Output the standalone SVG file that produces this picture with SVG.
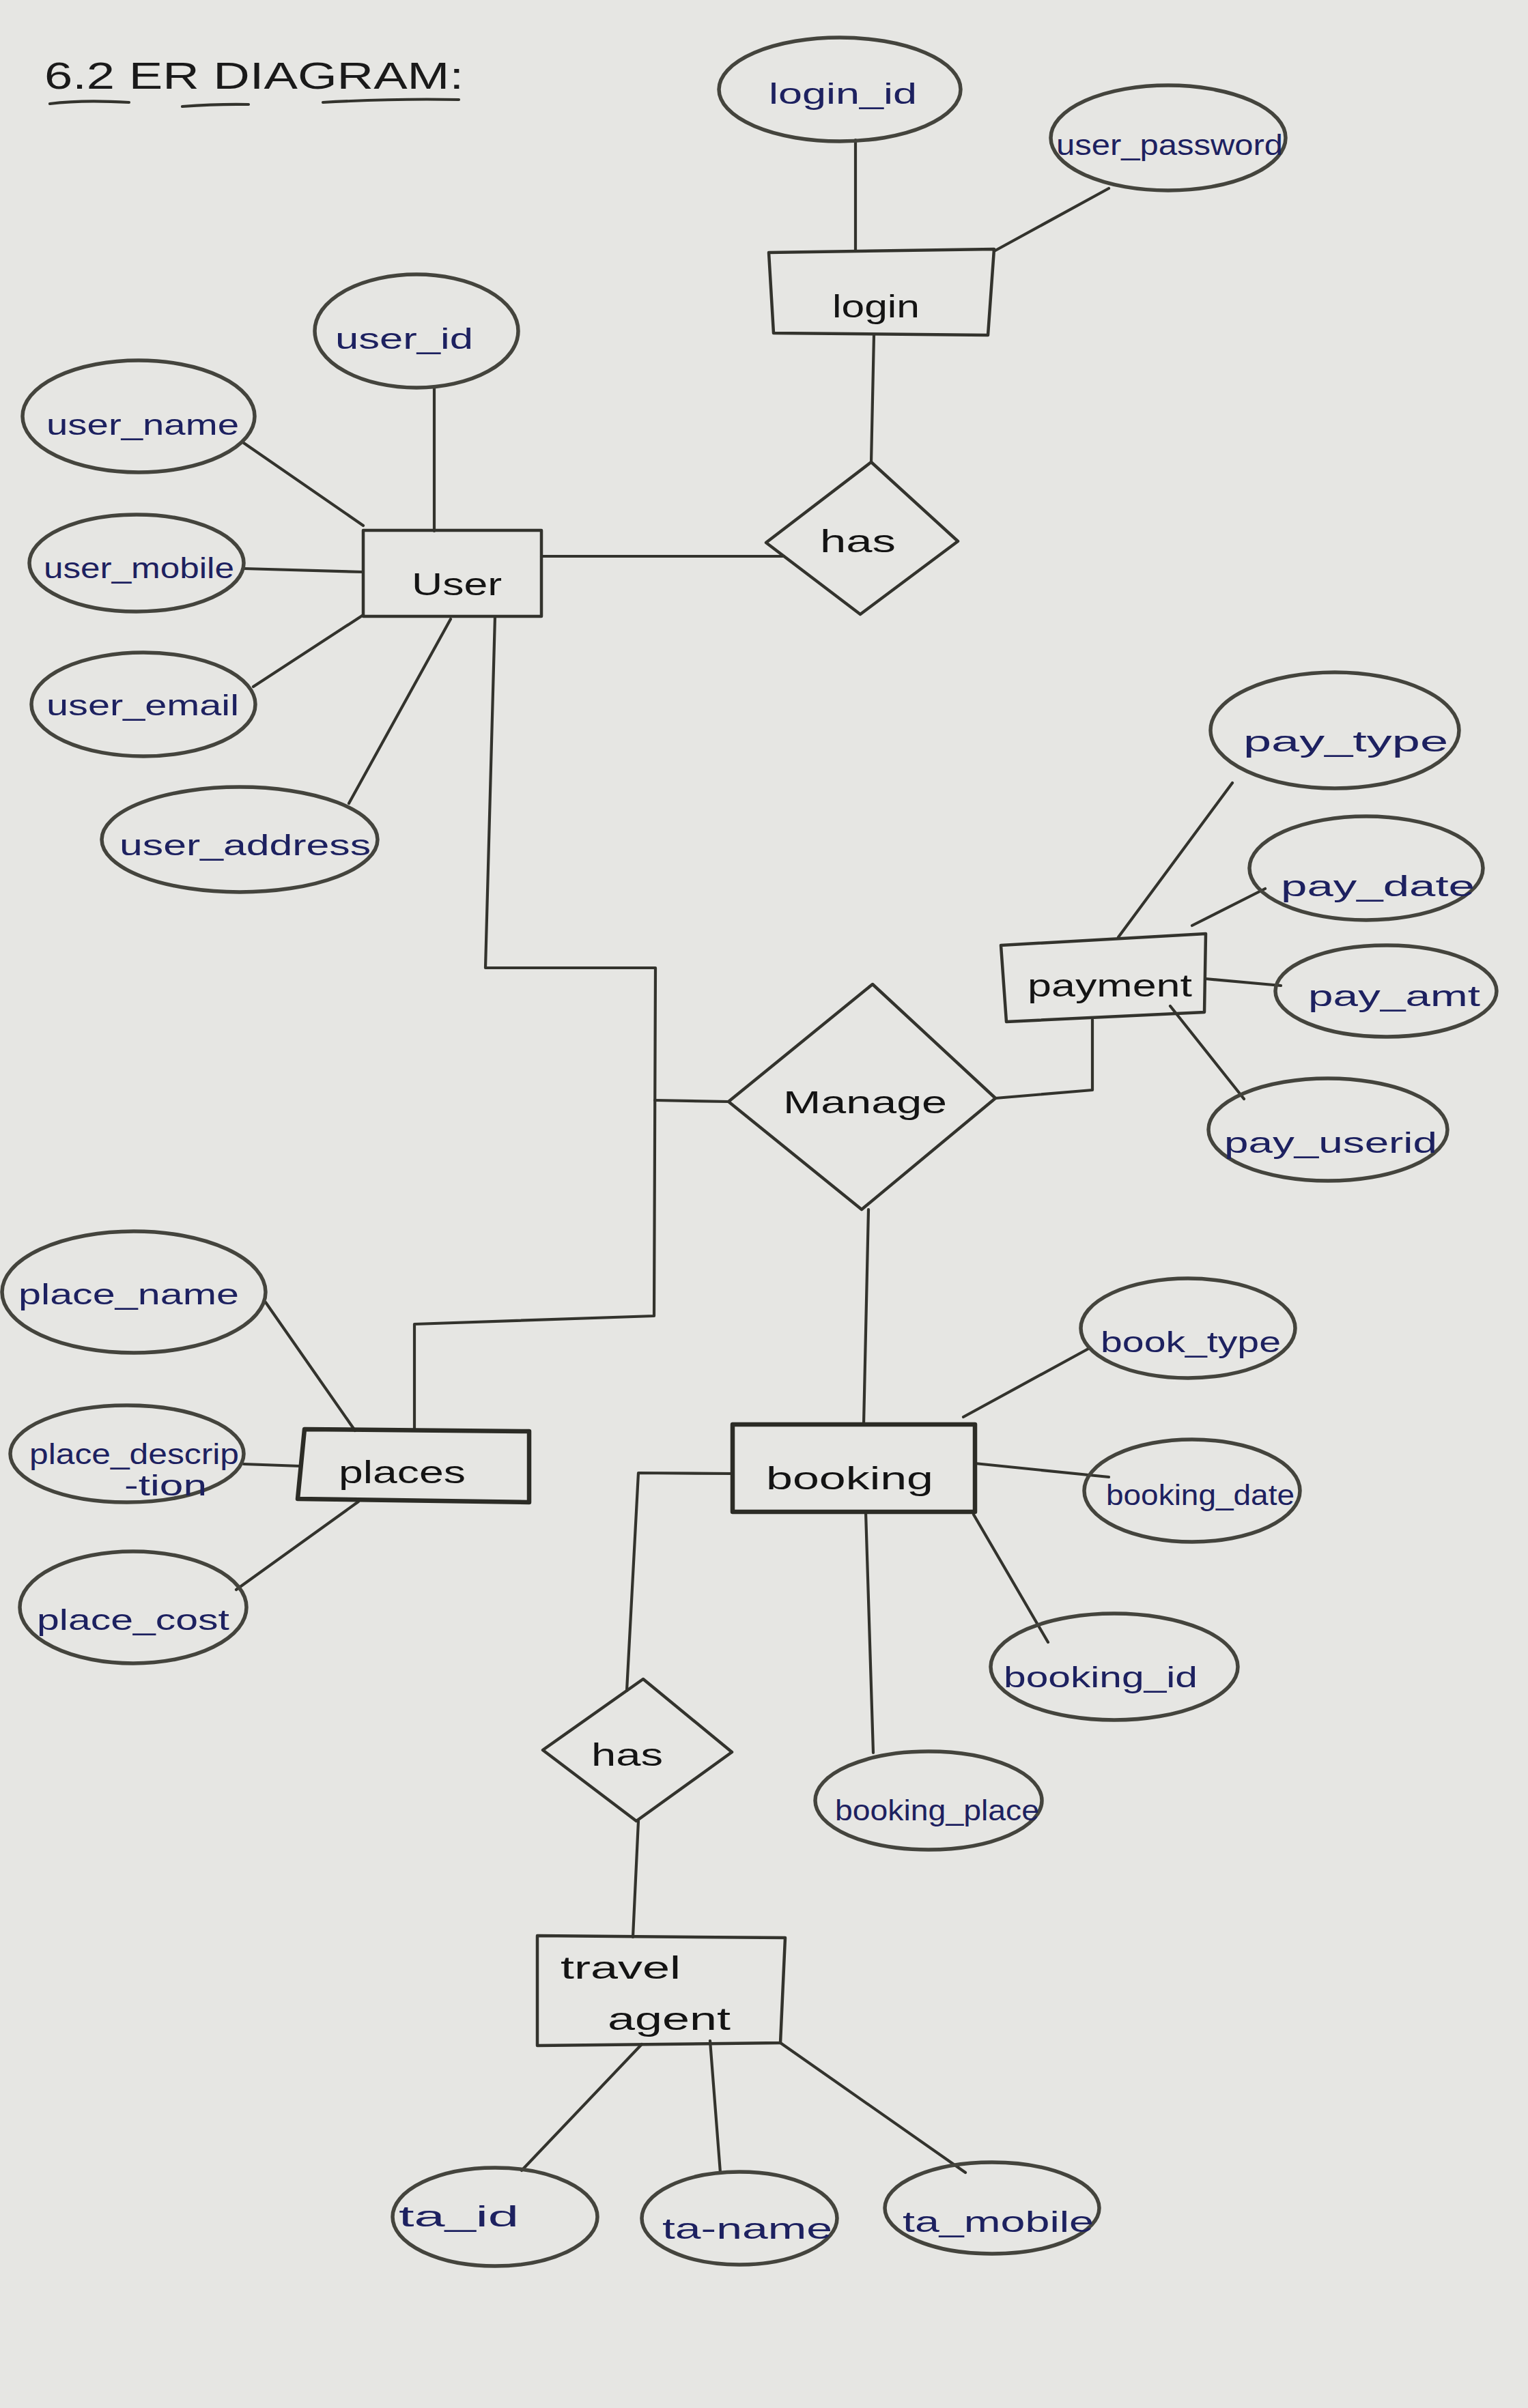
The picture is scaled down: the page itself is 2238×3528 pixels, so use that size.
<svg xmlns="http://www.w3.org/2000/svg" width="2238" height="3528" viewBox="0 0 2238 3528">
<style>
.bg{fill:#e6e6e3}
.ln{fill:none;stroke:#33332d;stroke-width:4.2;stroke-linecap:round;stroke-linejoin:round}
.ent{fill:none;stroke:#33332d;stroke-width:4.5;stroke-linejoin:round}
.entb{fill:none;stroke:#2c2c26;stroke-width:6.5;stroke-linejoin:round}
.rel{fill:none;stroke:#33332d;stroke-width:4.5;stroke-linejoin:round}
.att{fill:none;stroke:#44443d;stroke-width:5.5}
.at{font-family:"Liberation Sans","DejaVu Sans",sans-serif;font-size:42px;fill:#1d2160}
.et{font-family:"Liberation Sans","DejaVu Sans",sans-serif;font-size:46px;fill:#141414}
.tt{font-family:"Liberation Sans","DejaVu Sans",sans-serif;font-size:56px;fill:#1a1a1a}
</style>
<rect class="bg" x="0" y="0" width="2238" height="3528"/>

<g id="title">
<text class="tt" x="65" y="130" textLength="614" lengthAdjust="spacingAndGlyphs">6.2 ER DIAGRAM:</text>
<path class="ln" d="M73 152 Q120 146 189 150 M267 156 Q320 152 364 153 M473 150 Q580 144 672 146"/>
</g>

<g id="connectors">
<path class="ln" d="M1253 205 L1253 368"/>
<path class="ln" d="M1624 276 L1456 368"/>
<path class="ln" d="M1280 491 L1276 678"/>
<path class="ln" d="M793 815 L1148 815"/>
<path class="ln" d="M636 568 L636 778"/>
<path class="ln" d="M357 649 L532 770"/>
<path class="ln" d="M357 833 L532 838"/>
<path class="ln" d="M371 1006 L532 901"/>
<path class="ln" d="M511 1177 L660 907"/>
<path class="ln" d="M725 903 L711 1418 L960 1418 L958 1928 L607 1940 L607 2095"/>
<path class="ln" d="M959 1612 L1067 1614"/>
<path class="ln" d="M1458 1609 L1600 1597 L1600 1494"/>
<path class="ln" d="M1272 1772 L1265 2087"/>
<path class="ln" d="M1805 1147 L1638 1373"/>
<path class="ln" d="M1853 1302 L1746 1356"/>
<path class="ln" d="M1766 1434 L1876 1444"/>
<path class="ln" d="M1714 1474 L1822 1610"/>
<path class="ln" d="M1596 1975 L1411 2076"/>
<path class="ln" d="M1428 2144 L1624 2164"/>
<path class="ln" d="M1426 2219 L1535 2406"/>
<path class="ln" d="M1268 2215 L1279 2568"/>
<path class="ln" d="M1073 2159 L935 2158 L918 2477"/>
<path class="ln" d="M935 2668 L927 2838"/>
<path class="ln" d="M389 1908 L520 2096"/>
<path class="ln" d="M357 2145 L440 2148"/>
<path class="ln" d="M346 2329 L525 2200"/>
<path class="ln" d="M940 2995 L764 3180"/>
<path class="ln" d="M1040 2990 L1055 3183"/>
<path class="ln" d="M1143 2993 L1414 3183"/>
</g>

<g id="login">
<path class="ent" d="M1126 370 L1456 365 L1447 491 L1133 488 Z"/>
<text class="et" x="1219" y="465" textLength="128" lengthAdjust="spacingAndGlyphs">login</text>
</g>
<g id="login_id">
<ellipse class="att" cx="1230" cy="131" rx="177" ry="76"/>
<text class="at" x="1126" y="152" textLength="217" lengthAdjust="spacingAndGlyphs">login_id</text>
</g>
<g id="user_password">
<ellipse class="att" cx="1711" cy="202" rx="172" ry="77"/>
<text class="at" x="1547" y="227" font-size="38" textLength="332" lengthAdjust="spacingAndGlyphs">user_password</text>
</g>
<g id="has_login">
<path class="rel" d="M1276 677 L1403 793 L1260 900 L1122 795 Z"/>
<text class="et" x="1201" y="809" textLength="111" lengthAdjust="spacingAndGlyphs">has</text>
</g>

<g id="user">
<rect class="ent" x="532" y="777" width="261" height="126"/>
<text class="et" x="603" y="872" textLength="132" lengthAdjust="spacingAndGlyphs">User</text>
</g>
<g id="user_id">
<ellipse class="att" cx="610" cy="485" rx="149" ry="83"/>
<text class="at" x="491" y="511" textLength="202" lengthAdjust="spacingAndGlyphs">user_id</text>
</g>
<g id="user_name">
<ellipse class="att" cx="203" cy="610" rx="170" ry="82"/>
<text class="at" x="68" y="637" textLength="282" lengthAdjust="spacingAndGlyphs">user_name</text>
</g>
<g id="user_mobile">
<ellipse class="att" cx="200" cy="825" rx="157" ry="71"/>
<text class="at" x="64" y="847" textLength="279" lengthAdjust="spacingAndGlyphs">user_mobile</text>
</g>
<g id="user_email">
<ellipse class="att" cx="210" cy="1032" rx="164" ry="76"/>
<text class="at" x="68" y="1048" textLength="282" lengthAdjust="spacingAndGlyphs">user_email</text>
</g>
<g id="user_address">
<ellipse class="att" cx="351" cy="1230" rx="202" ry="77"/>
<text class="at" x="175" y="1253" textLength="368" lengthAdjust="spacingAndGlyphs">user_address</text>
</g>

<g id="payment">
<path class="ent" d="M1466 1385 L1766 1368 L1764 1483 L1474 1497 Z"/>
<text class="et" x="1505" y="1460" textLength="241" lengthAdjust="spacingAndGlyphs">payment</text>
</g>
<g id="pay_type">
<ellipse class="att" cx="1955" cy="1070" rx="182" ry="85"/>
<text class="at" x="1821" y="1101" textLength="300" lengthAdjust="spacingAndGlyphs">pay_type</text>
</g>
<g id="pay_date">
<ellipse class="att" cx="2001" cy="1272" rx="171" ry="76"/>
<text class="at" x="1876" y="1313" textLength="284" lengthAdjust="spacingAndGlyphs">pay_date</text>
</g>
<g id="pay_amt">
<ellipse class="att" cx="2030" cy="1452" rx="162" ry="67"/>
<text class="at" x="1916" y="1474" textLength="252" lengthAdjust="spacingAndGlyphs">pay_amt</text>
</g>
<g id="pay_userid">
<ellipse class="att" cx="1945" cy="1655" rx="175" ry="75"/>
<text class="at" x="1793" y="1689" textLength="312" lengthAdjust="spacingAndGlyphs">pay_userid</text>
</g>

<g id="manage">
<path class="rel" d="M1278 1442 L1458 1609 L1262 1772 L1067 1614 Z"/>
<text class="et" x="1147" y="1631" textLength="240" lengthAdjust="spacingAndGlyphs">Manage</text>
</g>

<g id="places">
<path class="entb" d="M446 2094 L775 2097 L775 2201 L436 2196 Z"/>
<text class="et" x="496" y="2173" font-size="42" textLength="186" lengthAdjust="spacingAndGlyphs">places</text>
</g>
<g id="place_name">
<ellipse class="att" cx="196" cy="1893" rx="193" ry="89"/>
<text class="at" x="27" y="1911" textLength="323" lengthAdjust="spacingAndGlyphs">place_name</text>
</g>
<g id="place_description">
<ellipse class="att" cx="186" cy="2130" rx="171" ry="71"/>
<text class="at" x="43" y="2145" font-size="40" textLength="307" lengthAdjust="spacingAndGlyphs">place_descrip</text>
<text class="at" x="182" y="2191" font-size="36" textLength="121" lengthAdjust="spacingAndGlyphs">-tion</text>
</g>
<g id="place_cost">
<ellipse class="att" cx="195" cy="2355" rx="166" ry="82"/>
<text class="at" x="54" y="2388" textLength="282" lengthAdjust="spacingAndGlyphs">place_cost</text>
</g>

<g id="booking">
<rect class="entb" x="1073" y="2087" width="355" height="128"/>
<text class="et" x="1122" y="2182" font-size="48" textLength="245" lengthAdjust="spacingAndGlyphs">booking</text>
</g>
<g id="book_type">
<ellipse class="att" cx="1740" cy="1946" rx="157" ry="73"/>
<text class="at" x="1612" y="1981" textLength="264" lengthAdjust="spacingAndGlyphs">book_type</text>
</g>
<g id="booking_date">
<ellipse class="att" cx="1746" cy="2184" rx="158" ry="75"/>
<text class="at" x="1620" y="2205" font-size="38" textLength="276" lengthAdjust="spacingAndGlyphs">booking_date</text>
</g>
<g id="booking_id">
<ellipse class="att" cx="1632" cy="2442" rx="181" ry="78"/>
<text class="at" x="1470" y="2472" textLength="284" lengthAdjust="spacingAndGlyphs">booking_id</text>
</g>
<g id="booking_place">
<ellipse class="att" cx="1360" cy="2638" rx="166" ry="72"/>
<text class="at" x="1223" y="2667" font-size="38" textLength="299" lengthAdjust="spacingAndGlyphs">booking_place</text>
</g>

<g id="has_agent">
<path class="rel" d="M942 2460 L1072 2567 L932 2668 L795 2564 Z"/>
<text class="et" x="866" y="2587" font-size="44" textLength="105" lengthAdjust="spacingAndGlyphs">has</text>
</g>

<g id="travel_agent">
<path class="ent" d="M787 2836 L1150 2839 L1143 2993 L787 2997 Z"/>
<text class="et" x="821" y="2899" font-size="44" textLength="176" lengthAdjust="spacingAndGlyphs">travel</text>
<text class="et" x="890" y="2974" font-size="44" textLength="180" lengthAdjust="spacingAndGlyphs">agent</text>
</g>
<g id="ta_id">
<ellipse class="att" cx="725" cy="3248" rx="150" ry="72"/>
<text class="at" x="584" y="3262" font-size="46" textLength="176" lengthAdjust="spacingAndGlyphs">ta_id</text>
</g>
<g id="ta_name">
<ellipse class="att" cx="1083" cy="3250" rx="143" ry="68"/>
<text class="at" x="970" y="3280" font-size="46" textLength="249" lengthAdjust="spacingAndGlyphs">ta-name</text>
</g>
<g id="ta_mobile">
<ellipse class="att" cx="1453" cy="3235" rx="157" ry="67"/>
<text class="at" x="1322" y="3270" font-size="46" textLength="280" lengthAdjust="spacingAndGlyphs">ta_mobile</text>
</g>
</svg>
